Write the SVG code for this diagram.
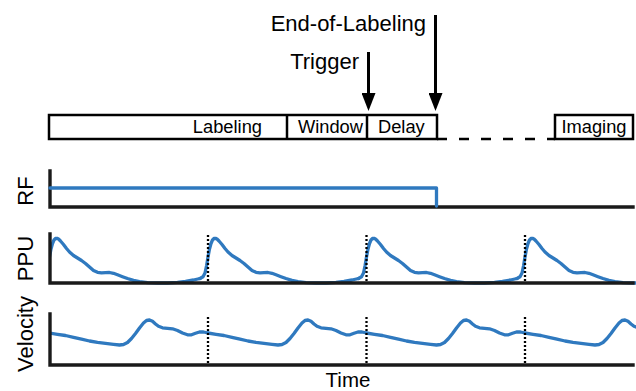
<svg xmlns="http://www.w3.org/2000/svg" xmlns:xlink="http://www.w3.org/1999/xlink" width="636" height="391" viewBox="0 0 636 391">
<style>
text{font-family:"Liberation Sans",Arial,Helvetica,sans-serif;fill:#000}
.big{font-size:22px}
.mid{font-size:18.3px}
.box{fill:#fff;stroke:#000;stroke-width:2.5}
.div{stroke:#000;stroke-width:2.5}
.axis{fill:none;stroke:#1a1a1a;stroke-width:3.4;stroke-linecap:square}
.sig{fill:none;stroke:#2f79bf;stroke-width:3.3;stroke-linejoin:round;stroke-linecap:round}
.dot{stroke:#000;stroke-width:2.3;stroke-dasharray:2 2}
.arrow{stroke:#000;stroke-width:3;marker-end:url(#ah)}
.dash{stroke:#000;stroke-width:2.5;stroke-dasharray:10 12}
</style>
<defs>
<marker id="ah" viewBox="0 0 18 14" refX="2" refY="7" markerWidth="18" markerHeight="14" markerUnits="userSpaceOnUse" orient="auto">
<path d="M0,0 L18,7 L0,14 z" fill="#000"/>
</marker>
<clipPath id="plot"><rect x="50" y="220" width="586" height="160"/></clipPath>
<path id="ppu" d="M -8 278.5 L -5 276.8 L -3 273 L -1.5 266 L 0 257 L 1.5 249 L 3 243.5 L 4.5 240 L 6 238.5 L 7.5 238.3 L 9 239 L 11 241 L 14 244.5 L 17 248.5 L 20 252 L 24 255.5 L 28 258 L 32 260.5 L 36 263.5 L 40 267 L 44 270.5 L 48 272.3 L 52 272.8 L 56 272.6 L 60 272.5 L 64 273.3 L 68 274.8 L 73 276.7 L 78 278.5 L 84 280.3 L 90 281.6 L 98 282.6 L 108 283 L 118 283 L 128 282.4 L 136 281.4 L 144 280 L 150.5 278.5"/>
<path id="vel" d="M 0 333 L 8 334.3 L 16 335.5 L 24 337.3 L 32 339.2 L 40 341 L 48 342.3 L 56 343.3 L 64 344.3 L 70 345 L 74 344.5 L 78 342.5 L 82 338.5 L 86 333.5 L 90 328 L 94 323 L 97 320.5 L 100 320 L 103 321.3 L 106 324 L 109 326.3 L 113 327.8 L 118 328.3 L 123 328.8 L 128 330.5 L 133 333 L 138 334.8 L 142 334.8 L 146 333.3 L 150 332 L 154 332 L 158.5 333"/>
</defs>

<g id="timeline">
<rect class="box" x="49" y="115" width="388" height="24"/>
<line class="div" x1="287" y1="115" x2="287" y2="139"/>
<line class="div" x1="367" y1="115" x2="367" y2="139"/>
<text class="mid" x="262" y="133" text-anchor="end">Labeling</text>
<text class="mid" x="363" y="133" text-anchor="end">Window</text>
<text class="mid" x="378" y="133">Delay</text>
</g>
<g id="imaging">
<rect class="box" x="555" y="115" width="78" height="24"/>
<text class="mid" x="594" y="133" text-anchor="middle">Imaging</text>
</g>
<g id="trigger-label"><text class="big" x="359" y="69" text-anchor="end">Trigger</text></g>
<g id="eol-label"><text class="big" x="426" y="31" text-anchor="end">End-of-Labeling</text></g>

<g id="connectors">
<line class="arrow" x1="368.5" y1="52" x2="368.5" y2="95"/>
<line class="arrow" x1="435.5" y1="15" x2="435.5" y2="95"/>
<line class="dash" x1="437" y1="139" x2="555" y2="139"/>
</g>

<g id="rf-plot">
<text class="big" transform="translate(33,191) rotate(-90)" text-anchor="middle">RF</text>
<path class="axis" d="M50 171 V207 H633"/>
<path class="sig" d="M50 188 H436.5 V206"/>
</g>

<g id="ppu-plot">
<text class="big" transform="translate(33,258.5) rotate(-90)" text-anchor="middle">PPU</text>
<g clip-path="url(#plot)" class="sig">
<use xlink:href="#ppu" transform="translate(49.5,0)"/>
<use xlink:href="#ppu" transform="translate(208,0)"/>
<use xlink:href="#ppu" transform="translate(366.5,0)"/>
<use xlink:href="#ppu" transform="translate(525,0)"/>
</g>
<line class="dot" x1="208" y1="235" x2="208" y2="283"/>
<line class="dot" x1="366.5" y1="235" x2="366.5" y2="283"/>
<line class="dot" x1="525" y1="235" x2="525" y2="283"/>
<path class="axis" d="M50 234 V283 H633"/>
</g>

<g id="velocity-plot">
<text class="big" transform="translate(33,334) rotate(-90)" text-anchor="middle">Velocity</text>
<g clip-path="url(#plot)" class="sig">
<use xlink:href="#vel" transform="translate(49.5,0)"/>
<use xlink:href="#vel" transform="translate(208,0)"/>
<use xlink:href="#vel" transform="translate(366.5,0)"/>
<use xlink:href="#vel" transform="translate(525,0)"/>
</g>
<line class="dot" x1="208" y1="317" x2="208" y2="365"/>
<line class="dot" x1="366.5" y1="317" x2="366.5" y2="365"/>
<line class="dot" x1="525" y1="317" x2="525" y2="365"/>
<path class="axis" d="M50 314 V365 H633"/>
<text x="348" y="387" text-anchor="middle" style="font-size:20.5px">Time</text>
</g>
</svg>
